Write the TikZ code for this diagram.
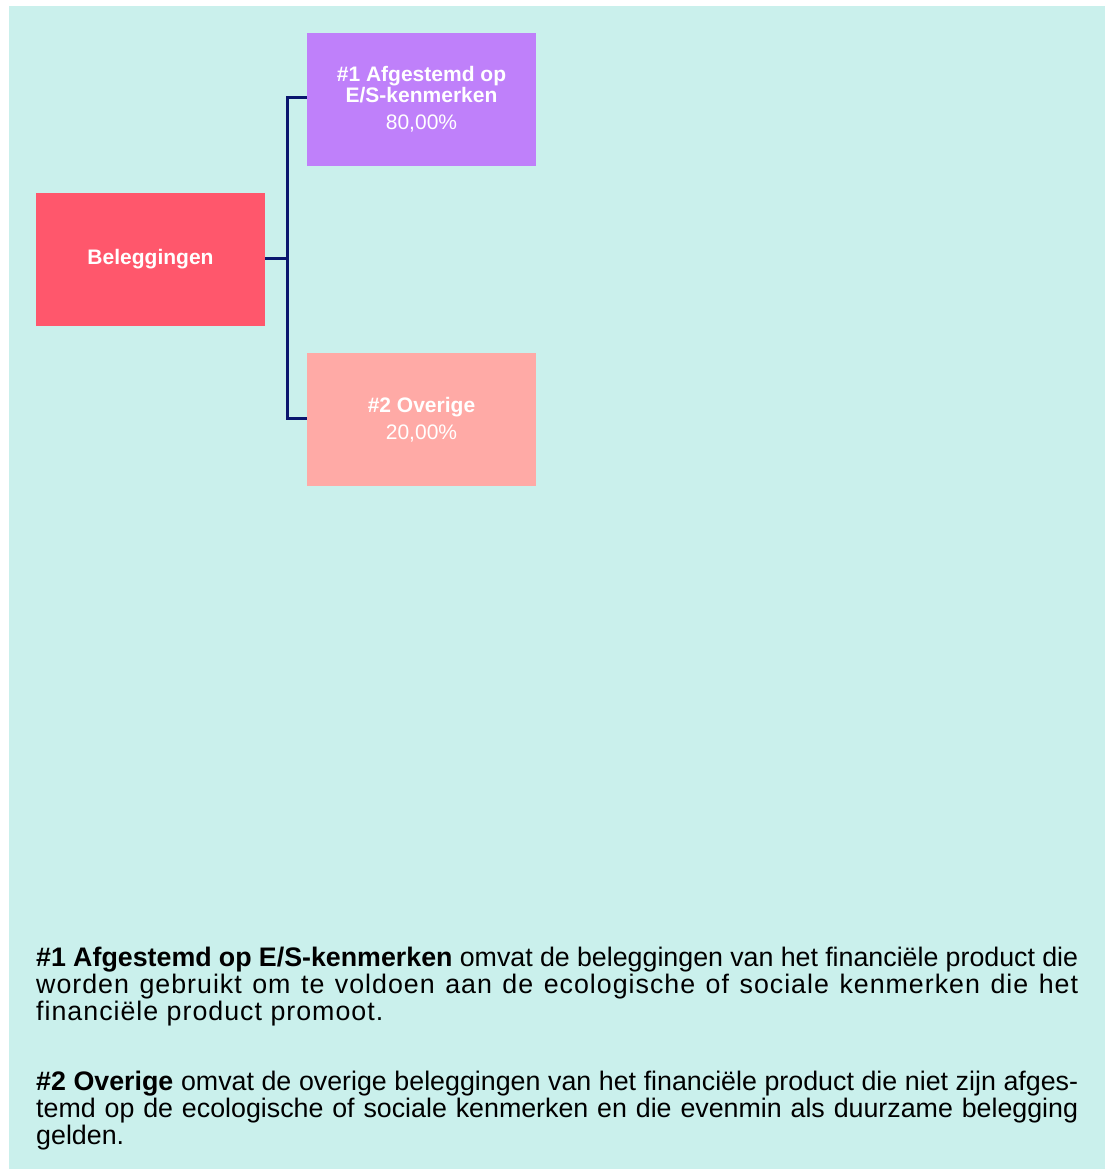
\documentclass[tikz,border=0pt]{standalone}
\usepackage{fontspec}
\setmainfont{Liberation Sans}
\definecolor{bgteal}{RGB}{202,240,236}
\definecolor{boxpurple}{RGB}{191,128,250}
\definecolor{boxred}{RGB}{255,87,108}
\definecolor{boxpink}{RGB}{255,170,166}
\definecolor{linenavy}{RGB}{10,22,110}
\begin{document}
\begin{tikzpicture}[x=1pt,y=-1pt,
  catbox/.style={minimum width=229pt,minimum height=133pt,inner sep=0pt,text=white,align=center,font=\fontsize{21}{21}\selectfont},
  conn/.style={draw=linenavy,line width=3pt},
  legline/.style={anchor=base west,inner sep=0pt,font=\fontsize{26.8}{27}\selectfont}]
\useasboundingbox (0,0) rectangle (1110,1169);
\fill[bgteal] (9,6) rectangle (1105,1169);
\node[catbox,fill=boxred] (bel) at (150.5,259.5) {\textbf{Beleggingen}};
\node[catbox,fill=boxpurple] (es) at (421.5,99.5) {\textbf{\#1 Afgestemd op}\\\textbf{E/S-kenmerken}\\[6pt]80,00\%};
\node[catbox,fill=boxpink] (ov) at (421.5,419.5) {\textbf{\#2 Overige}\\[6pt]20,00\%};
\coordinate (junc) at (287,258.5);
\draw[conn] ([yshift=1pt]bel.east) -- (junc);
\draw[conn] (junc) |- ([yshift=1.5pt]es.west);
\draw[conn] (junc) |- ([yshift=1.5pt]ov.west);
\node[legline] (la) at (36,966) {\makebox[1042pt][s]{\textbf{\#1 Afgestemd op E/S-kenmerken} omvat de beleggingen van het financiële product die}};
\node[legline] (lb) at (36,993) {\addfontfeature{LetterSpace=3.7}\makebox[1042pt][s]{worden gebruikt om te voldoen aan de ecologische of sociale kenmerken die het}};
\node[legline] (lc) at (36,1020) {\addfontfeature{LetterSpace=3.7}financiële product promoot.};
\node[legline] (ld) at (36,1090) {\makebox[1042pt][s]{\textbf{\#2 Overige} omvat de overige beleggingen van het financiële product die niet zijn afges-}};
\node[legline] (le) at (36,1117) {\makebox[1042pt][s]{temd op de ecologische of sociale kenmerken en die evenmin als duurzame belegging}};
\node[legline] (lf) at (36,1144) {gelden.};
\end{tikzpicture}
\end{document}
